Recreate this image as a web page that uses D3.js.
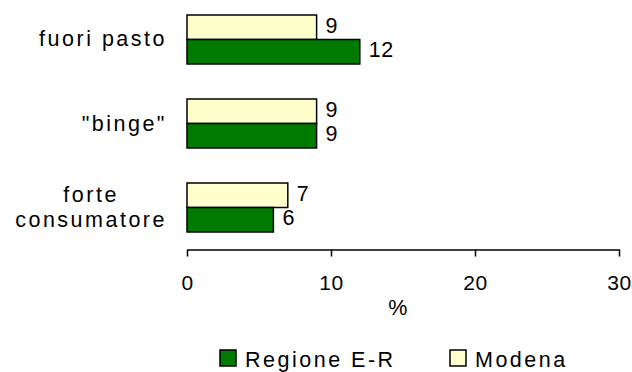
<!DOCTYPE html>
<html>
<head>
<meta charset="utf-8">
<script src="https://cdn.jsdelivr.net/npm/d3@7"></script>
<style>
  body { margin: 0; background: #fff; }
  text { font-family: "Liberation Sans", Arial, sans-serif; font-size: 21.5px; letter-spacing: 2.5px; fill: #000; }
</style>
</head>
<body>
<div id="chart"></div>
<script>
// categories top to bottom, each split into label lines
const categories = ["fuori pasto", "\"binge\"", "forte consumatore"];
const categoryLines = [["fuori pasto"], ["\"binge\""], ["forte", "consumatore"]];
const regione = [12, 9, 6];
const modena = [9, 9, 7];
const xTicks = [0, 10, 20, 30];
const seriesNames = ["Regione E-R", "Modena"];

const width = 632, height = 372;

const svg = d3.select("#chart")
  .append("svg")
  .attr("width", width)
  .attr("height", height);

// scales
const x = d3.scaleLinear().domain([0, 30]).range([187, 619]);
const y = d3.scaleBand().domain(categories).range([-2.5, 249.5])
  .paddingInner(0.4167).paddingOuter(0.2083);
// modena sits on top of regione within each group
const ySub = d3.scaleBand().domain(["modena", "regione"]).range([0, y.bandwidth()]);

const colors = { regione: "#007a00", modena: "#ffffcc" };

const rows = categories.map((c, i) => ({ cat: c, regione: regione[i], modena: modena[i] }));

const groups = svg.selectAll("g.grp")
  .data(rows)
  .join("g")
  .attr("class", "grp")
  .attr("transform", d => `translate(0,${y(d.cat)})`);

["modena", "regione"].forEach(key => {
  groups.append("rect")
    .attr("x", x(0))
    .attr("y", ySub(key))
    .attr("width", d => x(d[key]) - x(0))
    .attr("height", ySub.bandwidth())
    .attr("fill", colors[key])
    .attr("stroke", "#000")
    .attr("stroke-width", 1.5);

  groups.append("text")
    .attr("x", d => x(d[key]) + 9)
    .attr("y", ySub(key) + ySub.bandwidth() / 2 - 1.5)
    .attr("dominant-baseline", "central")
    .style("letter-spacing", "0.5px")
    .text(d => d[key]);
});

// category labels
categories.forEach((c, i) => {
  const lines = categoryLines[i];
  const cy = y(c) + y.bandwidth() / 2;
  const lineH = 25;
  const t = svg.append("text")
    .attr("text-anchor", lines.length > 1 ? "middle" : "end");
  lines.forEach((ln, j) => {
    t.append("tspan")
      .attr("x", 167)
      .attr("y", cy + 7 + (j - (lines.length - 1) / 2) * lineH)
      .text(ln);
  });
  if (lines.length > 1) {
    // center the lines on the widest one, right edge near the axis
    const w = d3.max(t.selectAll("tspan").nodes(), n => n.getComputedTextLength());
    t.selectAll("tspan").attr("x", 167 - w / 2);
  }
});

// x axis
const axis = svg.append("g")
  .attr("transform", "translate(0,249.5)")
  .call(d3.axisBottom(x).tickValues(xTicks).tickSize(7).tickSizeOuter(0).tickPadding(18.5));
axis.select(".domain").attr("stroke", "#000").attr("stroke-width", 1.5);
axis.selectAll(".tick line").attr("stroke", "#000").attr("stroke-width", 1.5);
axis.selectAll(".tick text")
  .style("font-family", "\"Liberation Sans\", Arial, sans-serif")
  .style("font-size", "21px")
  .style("letter-spacing", "0.5px")
  .attr("fill", "#000");

svg.append("text")
  .attr("x", 399)
  .attr("y", 315)
  .attr("text-anchor", "middle")
  .text("%");

// legend
const legendX = [220, 450];
const legendKeys = ["regione", "modena"];
legendKeys.forEach((k, i) => {
  svg.append("rect")
    .attr("x", legendX[i])
    .attr("y", 350)
    .attr("width", 16)
    .attr("height", 16)
    .attr("fill", colors[k])
    .attr("stroke", "#000")
    .attr("stroke-width", 1.5);
  svg.append("text")
    .attr("x", legendX[i] + 25)
    .attr("y", 367)
    .text(seriesNames[i]);
});
</script>
</body>
</html>
